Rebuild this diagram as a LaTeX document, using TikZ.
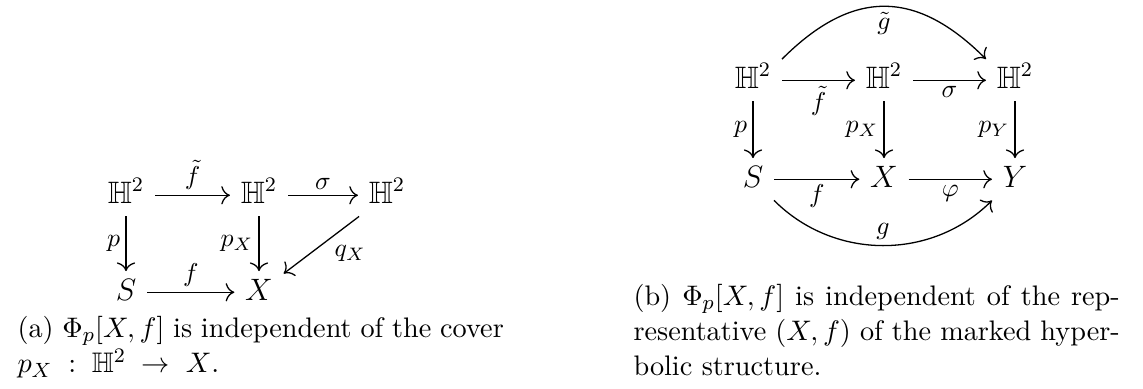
\documentclass[tikz,border=0pt,11pt]{standalone}
\usepackage{amsmath,amssymb}
\usepackage{tikz}
\usetikzlibrary{arrows.meta}

\begin{document}
\begin{tikzpicture}[
    x=0.3876pt, y=-0.3876pt,
    obj/.style={anchor=base, font=\large, text height=10.5pt, text depth=4.5pt, inner xsep=4pt, inner ysep=0.5pt},
    lbl/.style={font=\small, inner sep=2pt},
    caption/.style={anchor=north west, text width=188.5pt, align=justify, inner sep=0pt},
    arrow/.style={-{Computer Modern Rightarrow[scale=1.25]}, line width=0.5pt}
]
\useasboundingbox (0,0) rectangle (1143,388);
% (a) independence of the cover
\node (ha1) [obj] at (126,203) {$\mathbb{H}^2$};
\node (ha2) [obj] at (259,203) {$\mathbb{H}^2$};
\node (ha3) [obj] at (387,203) {$\mathbb{H}^2$};
\node (sa) [obj] at (126,300) {$S$};
\node (xa) [obj] at (259,300) {$X$};
\draw [arrow] (ha1) -- node[lbl, above] {$\tilde f$} (ha2);
\draw [arrow] (ha2) -- node[lbl, above] {$\sigma$} (ha3);
\draw [arrow] (ha1) -- node[lbl, left] {$p$} (sa);
\draw [arrow] (ha2) -- node[lbl, left] {$p_X$} (xa);
\draw [arrow] (ha3) -- node[lbl, pos=0.4, below right] {$q_X$} (xa);
\draw [arrow] (sa) -- node[lbl, above] {$f$} (xa);
\node (capa) [caption] at (17,316) {(a) $\Phi_p[X,f]$ is independent of the cover\linebreak $p_X \;:\; \mathbb{H}^2 \;\to\; X$.};
% (b) independence of the representative
\node (hb1) [obj] at (753,88) {$\mathbb{H}^2$};
\node (hb2) [obj] at (884,88) {$\mathbb{H}^2$};
\node (hb3) [obj] at (1015,88) {$\mathbb{H}^2$};
\node (sb) [obj] at (753,187) {$S$};
\node (xb) [obj] at (884,187) {$X$};
\node (yb) [obj] at (1015,187) {$Y$};
\draw [arrow] (hb1) -- node[lbl, below] {$\tilde f$} (hb2);
\draw [arrow] (hb2) -- node[lbl, below] {$\sigma$} (hb3);
\draw [arrow] (hb1) -- node[lbl, left] {$p$} (sb);
\draw [arrow] (hb2) -- node[lbl, left] {$p_X$} (xb);
\draw [arrow] (hb3) -- node[lbl, left] {$p_Y$} (yb);
\draw [arrow] (sb) -- node[lbl, below] {$f$} (xb);
\draw [arrow] (xb) -- node[lbl, below] {$\varphi$} (yb);
\draw [arrow] (hb1.north east) to[out=45, in=135, looseness=1.25] node[lbl, below] {$\tilde g$} (hb3.north west);
\draw [arrow] (sb.south east) to[out=-45, in=-135] node[lbl, above] {$g$} (yb.south west);
\node (capb) [caption] at (633,284) {(b) $\Phi_p[X,f]$ is independent of the rep-\linebreak resentative $(X,f)$ of the marked hyper-\linebreak bolic structure.};
\end{tikzpicture}
\end{document}
